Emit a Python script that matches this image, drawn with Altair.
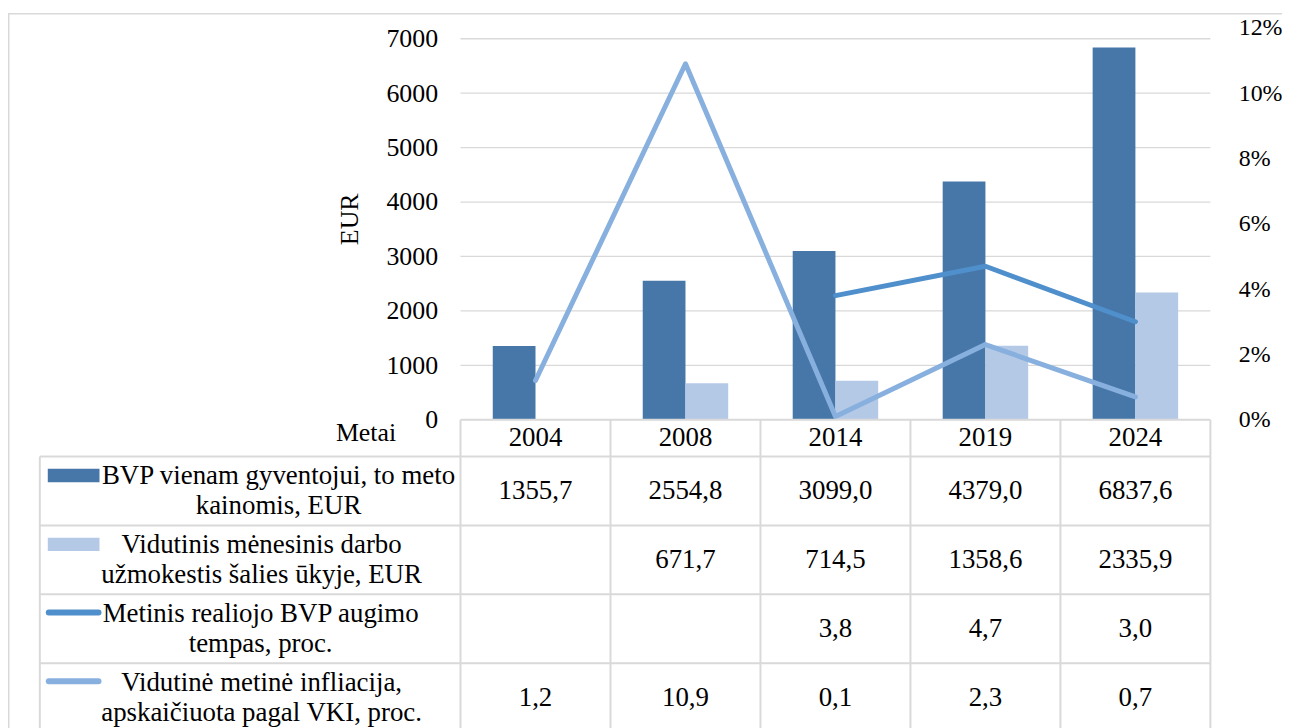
import altair as alt
import pandas as pd

# ---------------- data ----------------
years = ["2004", "2008", "2014", "2019", "2024"]
gdp_per_capita = [1355.7, 2554.8, 3099.0, 4379.0, 6837.6]
avg_monthly_wage = [None, 671.7, 714.5, 1358.6, 2335.9]
real_gdp_growth = [None, None, 3.8, 4.7, 3.0]
avg_inflation = [1.2, 10.9, 0.1, 2.3, 0.7]

series_keys = ["gdp", "wage", "growth", "infl"]
series_labels = [
    "BVP vienam gyventojui, to meto\nkainomis, EUR",
    "Vidutinis mėnesinis darbo\nužmokestis šalies ūkyje, EUR",
    "Metinis realiojo BVP augimo\ntempas, proc.",
    "Vidutinė metinė infliacija,\napskaičiuota pagal VKI, proc.",
]
eur_ticks = [0, 1000, 2000, 3000, 4000, 5000, 6000, 7000]
pct_ticks = [0, 0.02, 0.04, 0.06, 0.08, 0.10, 0.12]
axis_title = "EUR"
corner_label = "Metai"

# ---------------- style / layout ----------------
FONT = "Liberation Serif"
C_GDP, C_WAGE, C_GROWTH, C_INFL = "#4677A8", "#B4C9E6", "#4F8FCC", "#88B0DE"
GRID = "#d9d9d9"
FS = 26
FS_T = 27

W, H = 1209, 717
STEP = 150.8                    # px per year column
X0 = 455                        # view px where the year columns start
XMIN = -X0 / STEP
XMAX = (W - X0) / STEP
ZERO_Y, TOP_Y = 409, 15         # view px of 0 EUR and of axis top (7200 EUR / 12 %)
EUR_TOP = 7200
PX_PER_EUR = (ZERO_Y - TOP_Y) / EUR_TOP
EUR_MAX = EUR_TOP + TOP_Y / PX_PER_EUR
EUR_MIN = -(H - ZERO_Y) / PX_PER_EUR
PCT_PER_EUR = 0.12 / EUR_TOP
ROW_H, ROW0_Y = 69.3, 446       # table rows
R_MIN, R_MAX = -ROW0_Y / ROW_H, (H - ROW0_Y) / ROW_H
HEAD_TOP = -(ROW0_Y - ZERO_Y) / ROW_H
TABLE_LEFT = (32 - X0) / STEP
BAR_W = 0.285
label_cx_px = [272, 255, 254, 255]


def u(px):
    return (px - X0) / STEP


x_scale = alt.Scale(domain=[XMIN, XMAX], nice=False, zero=False)
eur_scale = alt.Scale(domain=[EUR_MIN, EUR_MAX], nice=False, zero=False)
pct_scale = alt.Scale(domain=[EUR_MIN * PCT_PER_EUR, EUR_MAX * PCT_PER_EUR], nice=False, zero=False)
row_scale = alt.Scale(domain=[R_MIN, R_MAX], nice=False, zero=False, reverse=True)
color_scale = alt.Scale(domain=series_keys, range=[C_GDP, C_WAGE, C_GROWTH, C_INFL])

# ---------------- frames ----------------
bar_rows = []
for i, y in enumerate(years):
    bar_rows.append({"idx": i, "series": "gdp", "slot": 0, "value": gdp_per_capita[i]})
    if avg_monthly_wage[i] is not None:
        bar_rows.append({"idx": i, "series": "wage", "slot": 1, "value": avg_monthly_wage[i]})
bar_df = pd.DataFrame(bar_rows)

line_rows = []
for i, y in enumerate(years):
    if real_gdp_growth[i] is not None:
        line_rows.append({"idx": i, "series": "growth", "value": real_gdp_growth[i] / 100})
    line_rows.append({"idx": i, "series": "infl", "value": avg_inflation[i] / 100})
line_df = pd.DataFrame(line_rows)


def fmt(v):
    return f"{v:.1f}".replace(".", ",")


value_rows = []
for r, arr in enumerate([gdp_per_capita, avg_monthly_wage, real_gdp_growth, avg_inflation]):
    for i, v in enumerate(arr):
        if v is not None:
            value_rows.append({"row": r, "idx": i, "text": fmt(v)})
value_df = pd.DataFrame(value_rows)
year_df = pd.DataFrame({"idx": list(range(len(years))), "year": years})
label_df = pd.DataFrame({"row": list(range(4)), "text": series_labels,
                         "cx": [u(p) for p in label_cx_px]})
grid_df = pd.DataFrame({"v": eur_ticks[1:], "x1": 0.0, "x2": 5.0})

h_lines = pd.DataFrame(
    [{"y": HEAD_TOP, "x1": 0.0, "x2": 5.0}] +
    [{"y": float(r), "x1": TABLE_LEFT, "x2": 5.0} for r in range(5)]
)
v_lines = pd.DataFrame(
    [{"x": float(c), "y1": HEAD_TOP, "y2": 4.0} for c in range(6)] +
    [{"x": TABLE_LEFT, "y1": 0.0, "y2": 4.0}]
)
frame_h = pd.DataFrame({"y": [R_MIN + 0.75 / ROW_H], "x1": [XMIN], "x2": [XMIN + 1290 / STEP]})
frame_v = pd.DataFrame({"x": [XMIN + 0.75 / STEP], "y1": [R_MIN], "y2": [R_MAX + 1]})
key_rect_df = pd.DataFrame({"row": [0, 1], "series": ["gdp", "wage"],
                            "xa": u(40), "xb": u(92)})
key_line_df = pd.DataFrame({"row": [2, 3], "series": ["growth", "infl"],
                            "xa": u(41), "xb": u(91)})
corner_df = pd.DataFrame({"t": [corner_label], "x": [u(360)], "y": [(422 - ROW0_Y) / ROW_H]})

# ---------------- layers ----------------
grid = alt.Chart(grid_df).mark_rule(color=GRID, strokeWidth=1.3).encode(
    x=alt.X("x1:Q", scale=x_scale, axis=None),
    x2="x2:Q",
    y=alt.Y("v:Q", scale=eur_scale, axis=None),
)

bars = alt.Chart(bar_df).transform_calculate(
    x0=f"datum.idx + 0.5 + (datum.slot - 1) * {BAR_W}",
    x1=f"datum.idx + 0.5 + datum.slot * {BAR_W}",
    base="0",
).mark_bar().encode(
    x=alt.X("x0:Q", scale=x_scale, axis=None),
    x2="x1:Q",
    y=alt.Y("value:Q", scale=eur_scale,
            axis=alt.Axis(orient="left", offset=-X0, values=eur_ticks, format="d", grid=False,
                          ticks=False, domain=False, labelPadding=23, labelFont=FONT,
                          labelFontSize=FS, labelColor="black", title=axis_title,
                          titleFont=FONT, titleFontSize=FS, titleFontWeight="normal",
                          titleColor="black", titlePadding=24, titleY=207)),
    y2="base:Q",
    color=alt.Color("series:N", scale=color_scale, legend=None),
)

lines = alt.Chart(line_df).transform_calculate(xc="datum.idx + 0.5").mark_line(
    strokeWidth=5, strokeCap="round", strokeJoin="round"
).encode(
    x=alt.X("xc:Q", scale=x_scale, axis=None),
    y=alt.Y("value:Q", scale=pct_scale,
            axis=alt.Axis(orient="right", values=pct_ticks, format=".0%", grid=False, ticks=False,
                          domain=False, labelPadding=28, labelFont=FONT, labelFontSize=24,
                          labelColor="black", title=None)),
    color=alt.Color("series:N", scale=color_scale, legend=None),
    detail="series:N",
)

tbl_h = alt.Chart(h_lines).mark_rule(color=GRID, strokeWidth=2).encode(
    x=alt.X("x1:Q", scale=x_scale, axis=None), x2="x2:Q",
    y=alt.Y("y:Q", scale=row_scale, axis=None),
)
tbl_v = alt.Chart(v_lines).mark_rule(color=GRID, strokeWidth=2).encode(
    x=alt.X("x:Q", scale=x_scale, axis=None),
    y=alt.Y("y1:Q", scale=row_scale, axis=None), y2="y2:Q",
)
fr_h = alt.Chart(frame_h).mark_rule(color=GRID, strokeWidth=1.5).encode(
    x=alt.X("x1:Q", scale=x_scale, axis=None), x2="x2:Q",
    y=alt.Y("y:Q", scale=row_scale, axis=None),
)
fr_v = alt.Chart(frame_v).mark_rule(color=GRID, strokeWidth=1.5).encode(
    x=alt.X("x:Q", scale=x_scale, axis=None),
    y=alt.Y("y1:Q", scale=row_scale, axis=None), y2="y2:Q",
)

year_text = alt.Chart(year_df).transform_calculate(
    xc="datum.idx + 0.5", yc=f"{HEAD_TOP / 2}"
).mark_text(font=FONT, fontSize=FS_T, baseline="middle", color="black").encode(
    x=alt.X("xc:Q", scale=x_scale, axis=None),
    y=alt.Y("yc:Q", scale=row_scale, axis=None),
    text="year:N",
)
value_text = alt.Chart(value_df).transform_calculate(
    xc="datum.idx + 0.5", yc="datum.row + 0.5"
).mark_text(font=FONT, fontSize=FS_T, baseline="middle", color="black").encode(
    x=alt.X("xc:Q", scale=x_scale, axis=None),
    y=alt.Y("yc:Q", scale=row_scale, axis=None),
    text="text:N",
)
label_text = alt.Chart(label_df).transform_calculate(
    yc="datum.row + 0.5"
).mark_text(font=FONT, fontSize=FS_T, baseline="middle", color="black",
            lineBreak="\n", lineHeight=30, dy=-15).encode(
    x=alt.X("cx:Q", scale=x_scale, axis=None),
    y=alt.Y("yc:Q", scale=row_scale, axis=None),
    text="text:N",
)
corner = alt.Chart(corner_df).mark_text(
    font=FONT, fontSize=FS, baseline="middle", color="black"
).encode(
    x=alt.X("x:Q", scale=x_scale, axis=None),
    y=alt.Y("y:Q", scale=row_scale, axis=None),
    text="t:N",
)
key_rect = alt.Chart(key_rect_df).transform_calculate(
    ya="datum.row + 0.178", yb="datum.row + 0.372"
).mark_rect().encode(
    x=alt.X("xa:Q", scale=x_scale, axis=None), x2="xb:Q",
    y=alt.Y("ya:Q", scale=row_scale, axis=None), y2="yb:Q",
    color=alt.Color("series:N", scale=color_scale, legend=None),
)
key_line = alt.Chart(key_line_df).transform_calculate(
    yc="datum.row + 0.262"
).mark_rule(strokeWidth=6, strokeCap="round").encode(
    x=alt.X("xa:Q", scale=x_scale, axis=None), x2="xb:Q",
    y=alt.Y("yc:Q", scale=row_scale, axis=None),
    color=alt.Color("series:N", scale=color_scale, legend=None),
)

chart = alt.layer(
    fr_h, fr_v, grid, bars, lines, tbl_h, tbl_v, year_text, value_text,
    label_text, corner, key_rect, key_line
).resolve_scale(y="independent").properties(
    width=W, height=H, autosize="none",
    padding={"left": 0, "top": 3, "right": 72, "bottom": 0},
).configure_view(stroke=None)

chart.save("out.html", embed_options={"renderer": "svg", "actions": False})
